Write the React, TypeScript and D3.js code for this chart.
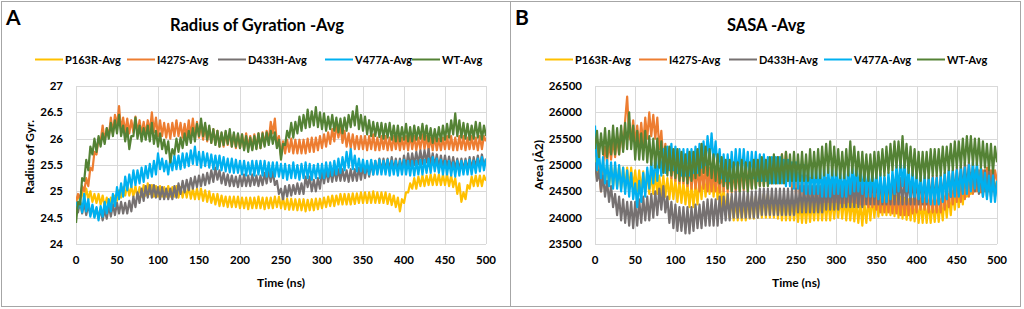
import React from "react";
import * as d3 from "d3";

// ---------- data ----------
const time = d3.range(0, 500.1, 2.5);

const seriesNames = ["P163R-Avg", "I427S-Avg", "D433H-Avg", "V477A-Avg", "WT-Avg"];
const seriesColors = ["#FFC000", "#ED7D31", "#767171", "#00B0F0", "#548235"];

const rgTicks = [24, 24.5, 25, 25.5, 26, 26.5, 27];
const sasaTicks = [23500, 24000, 24500, 25000, 25500, 26000, 26500];
const timeTicks = [0, 50, 100, 150, 200, 250, 300, 350, 400, 450, 500];

const rgWT = [
  24.40,24.80,24.75,25.25,25.20,25.60,25.40,25.85,25.70,26.00,
  25.75,26.05,25.85,26.10,25.90,26.20,26.00,26.30,26.05,26.35,
  26.10,26.45,26.05,26.25,25.95,26.20,25.80,26.05,26.05,26.40,
  26.00,26.25,25.95,26.20,25.98,26.25,25.95,26.30,25.90,26.15,
  25.85,26.10,25.80,25.98,25.72,25.95,25.55,25.80,25.70,26.00,
  25.75,26.02,25.82,26.10,25.88,26.15,25.92,26.20,25.95,26.28,
  26.05,26.38,26.05,26.30,25.98,26.25,25.92,26.18,25.88,26.15,
  25.85,26.12,25.88,26.15,25.90,26.18,25.85,26.12,25.85,26.10,
  25.82,26.08,25.78,26.05,25.75,26.02,25.78,26.05,25.80,26.10,
  25.82,26.10,25.85,26.12,25.88,26.15,25.90,26.12,25.82,25.98,
  25.60,25.90,25.88,26.15,26.02,26.30,26.02,26.32,26.10,26.42,
  26.15,26.45,26.20,26.55,26.22,26.52,26.25,26.60,26.22,26.50,
  26.18,26.48,26.15,26.42,26.18,26.45,26.15,26.40,26.12,26.38,
  26.10,26.40,26.15,26.45,26.22,26.52,26.25,26.62,26.18,26.45,
  26.15,26.42,26.08,26.35,26.05,26.32,26.05,26.30,26.03,26.30,
  26.00,26.28,26.02,26.30,25.98,26.25,25.95,26.25,25.95,26.22,
  25.98,26.28,25.95,26.22,25.95,26.25,25.98,26.22,26.00,26.28,
  25.98,26.25,25.95,26.20,25.92,26.18,25.95,26.22,25.95,26.25,
  25.98,26.28,26.02,26.35,26.08,26.48,26.05,26.35,26.02,26.30,
  26.00,26.28,25.98,26.25,26.00,26.32,26.02,26.30,25.98,26.25,
  26.05];
const rgI427S = [
  24.80,24.95,24.85,25.10,25.00,25.25,25.10,25.45,25.40,25.75,
  25.70,26.00,25.95,26.25,25.95,26.20,26.05,26.40,26.10,26.45,
  26.25,26.62,26.15,26.40,26.12,26.38,26.10,26.35,26.12,26.42,
  26.10,26.35,26.08,26.32,26.08,26.35,26.12,26.50,26.12,26.40,
  26.05,26.35,26.05,26.30,26.02,26.28,26.00,26.30,26.05,26.35,
  26.05,26.30,26.02,26.28,26.02,26.35,26.05,26.38,26.05,26.32,
  26.02,26.28,25.98,26.25,25.95,26.20,25.92,26.18,25.90,26.15,
  25.85,26.10,25.85,26.12,25.88,26.12,25.85,26.08,25.82,26.08,
  25.82,26.08,25.80,26.10,25.82,26.05,25.80,26.08,25.82,26.10,
  25.82,26.12,25.88,26.15,25.95,26.32,26.10,26.38,25.88,26.05,
  25.68,25.95,25.72,25.98,25.75,26.00,25.72,25.98,25.72,25.98,
  25.72,25.98,25.72,26.00,25.75,26.02,25.75,26.02,25.78,26.05,
  25.82,26.08,25.85,26.12,25.90,26.18,25.95,26.28,26.02,26.25,
  25.92,26.15,25.85,26.10,25.82,26.08,25.80,26.05,25.80,26.05,
  25.80,26.05,25.78,26.05,25.80,26.08,25.78,26.02,25.78,26.05,
  25.80,26.05,25.78,26.02,25.78,26.05,25.80,26.05,25.78,26.02,
  25.80,26.05,25.78,26.08,25.80,26.05,25.78,26.02,25.80,26.08,
  25.80,26.05,25.78,26.02,25.78,26.05,25.78,26.00,25.78,26.02,
  25.80,26.05,25.80,26.05,25.78,26.02,25.78,26.05,25.80,26.05,
  25.78,26.02,25.80,26.05,25.80,26.02,25.78,26.05,25.80,26.05,
  25.95];
const rgV477A = [
  24.80,24.68,24.85,24.60,24.95,24.62,24.85,24.52,24.75,24.50,
  24.70,24.45,24.72,24.52,24.80,24.58,24.85,24.62,24.95,24.72,
  25.08,24.85,25.15,24.90,25.28,25.02,25.32,25.08,25.40,25.12,
  25.40,25.15,25.45,25.18,25.48,25.25,25.52,25.28,25.58,25.32,
  25.72,25.42,25.62,25.38,25.58,25.32,25.62,25.40,25.68,25.42,
  25.68,25.42,25.72,25.45,25.72,25.48,25.78,25.52,25.85,25.50,
  25.75,25.45,25.75,25.48,25.72,25.45,25.70,25.42,25.68,25.42,
  25.68,25.40,25.65,25.38,25.62,25.36,25.62,25.35,25.60,25.35,
  25.58,25.32,25.58,25.30,25.55,25.32,25.58,25.30,25.58,25.32,
  25.58,25.30,25.58,25.28,25.55,25.28,25.55,25.28,25.55,25.28,
  25.52,25.25,25.52,25.22,25.50,25.25,25.55,25.25,25.50,25.22,
  25.52,25.25,25.55,25.25,25.52,25.22,25.50,25.25,25.52,25.25,
  25.52,25.25,25.55,25.28,25.55,25.30,25.58,25.32,25.62,25.35,
  25.65,25.40,25.75,25.45,25.80,25.42,25.68,25.38,25.62,25.38,
  25.60,25.35,25.58,25.32,25.60,25.32,25.58,25.32,25.60,25.32,
  25.58,25.32,25.60,25.30,25.58,25.32,25.58,25.30,25.58,25.32,
  25.60,25.32,25.58,25.30,25.58,25.30,25.58,25.32,25.60,25.32,
  25.60,25.35,25.62,25.35,25.65,25.38,25.62,25.35,25.60,25.32,
  25.58,25.32,25.58,25.30,25.55,25.28,25.58,25.30,25.58,25.32,
  25.58,25.32,25.60,25.32,25.58,25.35,25.62,25.38,25.65,25.40,
  25.62];
const rgD433H = [
  24.72,24.60,24.80,24.58,24.78,24.55,24.75,24.55,24.72,24.52,
  24.68,24.50,24.65,24.45,24.65,24.48,24.72,24.52,24.75,24.55,
  24.78,24.58,24.80,24.58,24.78,24.58,24.82,24.62,24.90,24.70,
  24.98,24.78,25.05,24.82,25.10,24.88,25.12,24.88,25.12,24.88,
  25.08,24.85,25.08,24.85,25.05,24.85,25.05,24.85,25.10,24.88,
  25.15,24.95,25.20,24.98,25.22,25.02,25.25,25.05,25.28,25.08,
  25.30,25.10,25.32,25.12,25.35,25.15,25.40,25.18,25.45,25.22,
  25.40,25.15,25.35,25.12,25.32,25.10,25.30,25.10,25.28,25.08,
  25.30,25.10,25.32,25.10,25.30,25.10,25.32,25.12,25.30,25.10,
  25.30,25.12,25.35,25.15,25.40,25.18,25.38,25.12,25.20,24.95,
  25.05,24.85,25.10,24.90,25.12,24.92,25.12,24.95,25.15,24.95,
  25.15,24.95,25.28,25.08,25.28,25.00,25.22,25.00,25.25,25.05,
  25.38,25.15,25.40,25.18,25.40,25.18,25.42,25.20,25.42,25.20,
  25.42,25.20,25.40,25.18,25.42,25.20,25.42,25.20,25.45,25.22,
  25.48,25.25,25.50,25.28,25.55,25.32,25.58,25.35,25.62,25.38,
  25.62,25.40,25.62,25.40,25.65,25.40,25.62,25.38,25.62,25.40,
  25.68,25.45,25.72,25.48,25.72,25.50,25.75,25.52,25.78,25.52,
  25.78,25.55,25.80,25.50,25.72,25.48,25.70,25.45,25.68,25.45,
  25.68,25.45,25.66,25.42,25.65,25.42,25.62,25.40,25.62,25.40,
  25.62,25.40,25.65,25.42,25.65,25.45,25.68,25.45,25.70,25.48,
  25.62];
const rgP163R = [
  24.80,24.92,24.82,25.00,24.85,25.05,24.85,25.00,24.80,24.95,
  24.78,24.95,24.75,24.92,24.70,24.88,24.70,24.88,24.72,24.92,
  24.82,25.02,24.88,25.08,24.92,25.12,24.92,25.10,24.90,25.10,
  24.88,25.08,24.90,25.12,24.92,25.15,24.95,25.12,24.90,25.10,
  24.90,25.10,24.90,25.08,24.90,25.10,24.90,25.08,24.90,25.10,
  24.88,25.08,24.88,25.08,24.88,25.10,24.86,25.05,24.85,25.05,
  24.85,25.05,24.82,25.02,24.80,25.00,24.78,24.95,24.75,24.95,
  24.72,24.92,24.72,24.90,24.70,24.90,24.70,24.90,24.70,24.90,
  24.68,24.88,24.68,24.88,24.66,24.88,24.68,24.88,24.68,24.90,
  24.68,24.88,24.66,24.88,24.68,24.88,24.68,24.90,24.70,24.90,
  24.68,24.88,24.66,24.86,24.65,24.86,24.65,24.85,24.64,24.85,
  24.64,24.85,24.62,24.84,24.64,24.85,24.64,24.86,24.66,24.86,
  24.68,24.88,24.70,24.90,24.72,24.92,24.72,24.92,24.75,24.95,
  24.75,24.95,24.75,24.95,24.75,24.96,24.76,24.96,24.78,24.98,
  24.78,24.98,24.78,24.98,24.78,25.00,24.78,24.98,24.78,24.98,
  24.78,24.98,24.76,24.95,24.74,24.92,24.70,24.88,24.62,24.85,
  24.78,24.98,24.98,25.15,25.05,25.25,25.05,25.28,25.10,25.30,
  25.10,25.30,25.12,25.32,25.12,25.32,25.12,25.32,25.12,25.32,
  25.12,25.32,25.10,25.30,25.08,25.25,24.95,25.15,24.80,24.98,
  24.85,25.12,25.05,25.28,25.10,25.30,25.10,25.30,25.10,25.30,
  25.20];

const sasaWT = [
  25300,25650,25150,25600,25200,25700,25150,25650,25200,25750,
  25200,25700,25200,25750,25250,25800,25300,26000,25300,25750,
  25100,25650,25100,25600,25100,25650,25050,25550,25000,25500,
  24950,25500,24950,25450,24850,25350,24800,25350,24800,25300,
  24750,25300,24700,25250,24700,25200,24650,25250,24700,25250,
  24750,25300,24800,25400,24850,25350,24800,25300,24750,25200,
  24700,25200,24650,25150,24600,25100,24550,25100,24500,25050,
  24550,25050,24500,25100,24550,25050,24500,25050,24550,25100,
  24550,25100,24600,25150,24600,25100,24600,25150,24650,25200,
  24650,25150,24650,25200,24650,25250,24700,25200,24700,25250,
  24700,25200,24700,25250,24700,25200,24700,25300,24750,25250,
  24750,25300,24750,25350,24800,25400,24850,25450,24800,25350,
  24800,25300,24750,25250,24750,25300,24800,25450,24850,25350,
  24800,25250,24700,25250,24700,25200,24700,25200,24700,25250,
  24750,25250,24800,25300,24800,25350,24850,25400,24900,25450,
  24950,25450,24950,25550,24950,25400,24850,25350,24800,25300,
  24750,25250,24700,25250,24750,25250,24750,25300,24800,25300,
  24800,25300,24800,25350,24850,25350,24900,25400,24900,25450,
  24950,25450,24950,25500,25000,25550,25050,25550,25000,25500,
  25000,25500,24950,25450,24950,25400,24900,25400,24850,25350,
  25050];
const sasaI427S = [
  25150,25450,24900,24500,25000,25350,25050,25450,25100,25500,
  25150,25550,25200,25650,25300,25850,26300,25550,25450,25850,
  25400,25750,25350,25800,25400,25900,25500,26000,25550,25950,
  25500,25900,25300,25650,25050,25400,24900,25250,24750,25100,
  24700,25100,24650,25050,24650,25050,24600,25000,24550,24950,
  24550,24950,24500,24950,24550,25000,24500,24950,24500,24900,
  24500,24900,24480,24900,24500,24920,24480,24900,24480,24900,
  24480,24920,24500,24950,24520,24980,24520,25000,24550,25050,
  24580,25050,24600,25100,24600,25100,24650,25100,24650,25150,
  24650,25150,24700,25200,24750,25250,24700,25050,24550,24900,
  24450,24850,24400,24800,24350,24800,24350,24750,24300,24700,
  24300,24700,24280,24720,24300,24750,24300,24720,24300,24700,
  24300,24700,24280,24680,24280,24700,24300,24720,24300,24750,
  24280,24680,24250,24650,24250,24650,24200,24600,24200,24580,
  24150,24550,24100,24550,24100,24500,24100,24500,24080,24480,
  24080,24480,24050,24480,24050,24450,24050,24480,24080,24500,
  24100,24550,24150,24550,24150,24550,24100,24500,24100,24500,
  24100,24500,24100,24550,24150,24600,24200,24650,24250,24700,
  24300,24700,24300,24750,24350,24800,24400,24850,24450,24900,
  24500,24900,24480,24900,24500,24950,24500,24900,24500,24900,
  24700];
const sasaV477A = [
  25750,24900,25250,24750,25150,24650,25100,24600,25050,24550,
  25050,24550,25000,24500,24950,24450,24900,24400,24850,24350,
  24650,24200,24700,24300,24850,24400,24950,24550,25050,24650,
  25150,24700,25250,24800,25300,24850,25350,24900,25400,24900,
  25350,24850,25300,24800,25300,24800,25300,24800,25300,24850,
  25350,24850,25400,24950,25450,25000,25550,25100,25600,25050,
  25450,24950,25300,24750,25200,24700,25200,24700,25250,24750,
  25300,24800,25300,24800,25300,24800,25250,24750,25250,24750,
  25250,24700,25200,24700,25200,24700,25150,24650,25150,24650,
  25150,24650,25150,24650,25100,24600,25100,24600,25050,24550,
  25050,24550,25000,24500,25000,24450,24950,24450,24950,24450,
  24950,24450,24950,24400,24950,24400,24950,24400,24950,24450,
  24950,24450,24900,24400,24900,24400,24950,24450,25000,24500,
  25000,24500,24950,24450,24950,24400,24900,24400,24900,24400,
  24850,24350,24850,24300,24800,24300,24850,24350,24900,24450,
  25000,24500,25100,24600,25050,24500,24950,24400,24900,24400,
  24850,24350,24800,24300,24800,24300,24750,24250,24750,24250,
  24750,24250,24800,24300,24850,24350,24900,24400,24900,24400,
  24900,24400,24950,24450,24950,24450,25000,24500,25050,24550,
  25050,24500,24950,24400,24850,24350,24800,24300,24800,24300,
  24700];
const sasaD433H = [
  25050,24700,24900,24500,24800,24400,24700,24300,24600,24200,
  24450,24050,24400,23950,24350,23900,24300,23850,24300,23800,
  24300,23850,24350,23900,24400,23950,24400,23950,24450,24000,
  24500,24050,24550,24150,24600,24100,24400,23900,24300,23800,
  24250,23750,24200,23750,24200,23700,24200,23700,24200,23750,
  24250,23800,24250,23800,24300,23850,24350,23850,24350,23850,
  24350,23850,24400,23900,24400,23950,24450,23950,24450,24000,
  24500,24000,24500,24000,24500,24000,24500,24000,24500,24000,
  24500,24000,24550,24050,24550,24050,24550,24050,24550,24050,
  24550,24050,24550,24050,24550,24050,24550,24050,24550,24050,
  24550,24100,24600,24100,24600,24100,24600,24100,24600,24100,
  24600,24100,24600,24100,24650,24150,24650,24150,24650,24150,
  24650,24150,24650,24200,24700,24200,24700,24200,24700,24200,
  24700,24200,24700,24200,24750,24250,24750,24250,24750,24250,
  24750,24250,24750,24250,24750,24250,24750,24250,24750,24250,
  24750,24250,24750,24250,24750,24250,24750,24250,24750,24250,
  24750,24250,24750,24250,24750,24250,24800,24300,24800,24300,
  24800,24300,24800,24350,24850,24350,24900,24400,24900,24450,
  24950,24450,25000,24500,25050,24550,25050,24550,25000,24500,
  24950,24450,24900,24400,24900,24400,24900,24400,24900,24400,
  24700];
const sasaP163R = [
  25150,24750,25100,24700,25050,24650,25000,24600,25000,24600,
  24980,24580,24980,24550,24950,24550,24950,24550,24950,24550,
  24900,24500,24900,24500,24880,24480,24880,24450,24850,24450,
  24850,24450,24800,24400,24800,24400,24750,24350,24750,24350,
  24720,24300,24700,24280,24680,24250,24650,24200,24620,24200,
  24650,24250,24750,24350,24800,24400,24850,24450,24850,24400,
  24800,24350,24700,24200,24550,24100,24450,24000,24400,23950,
  24350,23950,24350,23950,24350,23950,24400,23980,24400,23980,
  24400,24000,24400,24000,24450,24000,24450,24000,24400,24000,
  24380,23980,24350,23950,24350,23950,24350,23950,24350,23950,
  24330,23920,24300,23900,24300,23900,24320,23920,24320,23950,
  24350,23950,24350,23950,24350,23950,24350,23950,24350,23980,
  24400,24000,24400,23980,24380,23950,24350,23950,24350,23930,
  24320,23900,24300,23850,24300,23900,24350,23950,24400,24000,
  24420,24020,24450,24050,24450,24050,24450,24050,24450,24030,
  24420,24000,24400,23980,24380,23960,24350,23950,24350,23930,
  24320,23900,24300,23900,24300,23900,24300,23900,24300,23920,
  24320,23920,24350,23950,24400,24000,24450,24050,24500,24150,
  24600,24200,24650,24250,24800,24400,24850,24450,24900,24500,
  24950,24550,24950,24500,24900,24500,24900,24500,24900,24500,
  24700];

const rgSeries = [rgP163R, rgI427S, rgD433H, rgV477A, rgWT];
const sasaSeries = [sasaP163R, sasaI427S, sasaD433H, sasaV477A, sasaWT];

// ---------- layout ----------
const FONT = "Lato, 'Open Sans', sans-serif";
const GRID = "#d9d9d9";

type PanelProps = {
  ox: number;
  width: number;
  letter: string;
  title: string;
  titleX: number;
  yLabel: string;
  yLabelX: number;
  yLabelY: number;
  plotLeft: number;
  plotRight: number;
  yDomain: [number, number];
  yTicks: number[];
  series: number[][];
  legendX: number[];
};

function Panel(p: PanelProps) {
  const top = 86;
  const bottom = 244;
  const x = d3.scaleLinear().domain([0, 500]).range([p.plotLeft, p.plotRight]);
  const y = d3.scaleLinear().domain(p.yDomain).range([bottom, top]);
  const line = d3
    .line<number>()
    .x((_, i) => x(time[i]))
    .y((d) => y(d));
  const clipId = "clip-" + p.letter;
  return (
    <g>
      <rect x={p.ox + 0.5} y={1.5} width={p.width} height={305} fill="#fff" stroke="#a6a6a6" strokeWidth={1} />
      <text x={p.ox + 5} y={25} fontFamily={FONT} fontWeight={700} fontSize={21} fill="#000">{p.letter}</text>
      <text x={p.titleX} y={31} textAnchor="middle" fontFamily={FONT} fontWeight={700} fontSize={16.5} fill="#000">{p.title}</text>
      {seriesNames.map((n, i) => (
        <g key={n}>
          <line x1={p.legendX[i]} x2={p.legendX[i] + 28} y1={59.5} y2={59.5} stroke={seriesColors[i]} strokeWidth={2} />
          <text x={p.legendX[i] + 30} y={63.5} fontFamily={FONT} fontWeight={700} fontSize={11} fill="#000">{n}</text>
        </g>
      ))}
      {timeTicks.map((t) => (
        <line key={"vx" + t} x1={Math.round(x(t)) + 0.5} x2={Math.round(x(t)) + 0.5} y1={top} y2={bottom} stroke={GRID} strokeWidth={1} />
      ))}
      {p.yTicks.map((v) => (
        <line key={"hy" + v} x1={p.plotLeft} x2={p.plotRight} y1={Math.round(y(v)) + 0.5} y2={Math.round(y(v)) + 0.5} stroke={GRID} strokeWidth={1} />
      ))}
      {p.yTicks.map((v) => (
        <text key={"ty" + v} x={p.plotLeft - 13} y={y(v) + 4} textAnchor="end" fontFamily={FONT} fontWeight={700} fontSize={11.5} fill="#000">{String(v)}</text>
      ))}
      {timeTicks.map((t) => (
        <text key={"tx" + t} x={x(t)} y={264} textAnchor="middle" fontFamily={FONT} fontWeight={700} fontSize={11.5} fill="#000">{t}</text>
      ))}
      <text x={(p.plotLeft + p.plotRight) / 2} y={287} textAnchor="middle" fontFamily={FONT} fontWeight={700} fontSize={12} fill="#000">Time (ns)</text>
      <text transform={`translate(${p.yLabelX},${p.yLabelY}) rotate(-90)`} textAnchor="middle" fontFamily={FONT} fontWeight={700} fontSize={12} fill="#000">{p.yLabel}</text>
      <clipPath id={clipId}>
        <rect x={p.plotLeft} y={top - 2} width={p.plotRight - p.plotLeft} height={bottom - top + 2} />
      </clipPath>
      <g clipPath={`url(#${clipId})`}>
        {p.series.map((s, i) => (
          <path key={i} d={line(s) || ""} fill="none" stroke={seriesColors[i]} strokeWidth={2.2} strokeLinejoin="round" />
        ))}
      </g>
    </g>
  );
}

export default function App() {
  return (
    <svg width={1024} height={309} style={{ position: "absolute", left: 0, top: 0, background: "#fff" }}>
      <Panel
        ox={1}
        width={509}
        letter="A"
        title="Radius of Gyration -Avg"
        titleX={257}
        yLabel="Radius of Gyr."
        yLabelX={34}
        yLabelY={157}
        plotLeft={76}
        plotRight={486}
        yDomain={[24, 27]}
        yTicks={rgTicks}
        series={rgSeries}
        legendX={[35, 127, 218, 325, 412]}
      />
      <Panel
        ox={510}
        width={510}
        letter="B"
        title="SASA -Avg"
        titleX={766}
        yLabel="Area (Å2)"
        yLabelX={543}
        yLabelY={165}
        plotLeft={595}
        plotRight={997}
        yDomain={[23500, 26500]}
        yTicks={sasaTicks}
        series={sasaSeries}
        legendX={[545, 639, 729, 824, 917]}
      />
    </svg>
  );
}
